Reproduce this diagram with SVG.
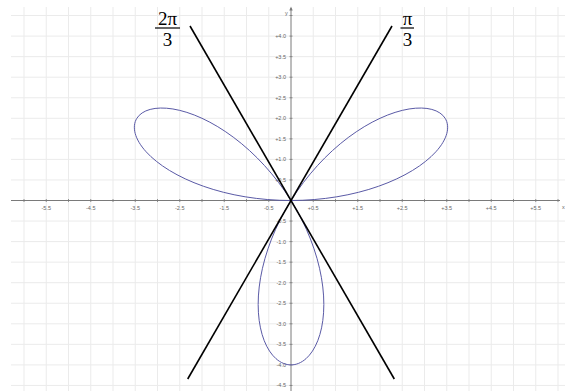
<svg xmlns="http://www.w3.org/2000/svg" xmlns:xlink="http://www.w3.org/1999/xlink" width="565" height="391" viewBox="0 0 565 391">
<style>
.grid{stroke:#ebebeb;stroke-width:1;fill:none}
.axis{stroke:#7a7a7a;stroke-width:1;fill:none}
.tick{stroke:#7a7a7a;stroke-width:0.8}
.tl{font-family:"Liberation Sans",Arial,sans-serif;font-size:5.5px;fill:#666}
.xl{text-anchor:middle}
.yl{text-anchor:end;dominant-baseline:central}
.curve{fill:none;stroke:#5a5aa6;stroke-width:1;vector-effect:non-scaling-stroke}
.ray{stroke:#000;stroke-width:1.6;fill:none}
.frac{font-family:"Liberation Serif","Times New Roman",serif;font-size:19px;fill:#000;text-anchor:middle}
</style>
<defs>
<path id="lobe" class="curve" d="M0 0 C0.3491 0 0.6980 0.0308 1.0313 0.0902 C1.3646 0.1496 1.6820 0.2375 1.9696 0.3473 C2.2572 0.4571 2.5150 0.5887 2.7321 0.7321 C2.9492 0.8755 3.1257 1.0304 3.2552 1.1848 C3.3847 1.3392 3.4673 1.4929 3.5017 1.6329 C3.5361 1.7729 3.5223 1.8992 3.4641 2 C3.4059 2.1008 3.3034 2.1759 3.1649 2.2161 C3.0264 2.2563 2.8521 2.2617 2.6536 2.2267 C2.4551 2.1917 2.2327 2.1164 2 2 C1.7673 1.8836 1.5245 1.7263 1.2856 1.5321 C1.0467 1.3379 0.8119 1.1070 0.5938 0.8481 C0.3757 0.5892 0.1745 0.3023 0 0"/>
</defs>
<rect width="565" height="391" fill="#fff"/>
<g id="grid">
<path class="grid" d="M24 7V391M46.25 7V391M68.5 7V391M90.75 7V391M113 7V391M135.25 7V391M157.5 7V391M179.75 7V391M202 7V391M224.25 7V391M246.5 7V391M268.75 7V391M313.25 7V391M335.5 7V391M357.75 7V391M380 7V391M402.25 7V391M424.5 7V391M446.75 7V391M469 7V391M491.25 7V391M513.5 7V391M535.75 7V391M558 7V391"/>
<path class="grid" d="M11 15.5H565M11 36.1H565M11 56.65H565M11 77.2H565M11 97.75H565M11 118.3H565M11 138.85H565M11 159.4H565M11 179.95H565M11 221.05H565M11 241.6H565M11 262.15H565M11 282.7H565M11 303.25H565M11 323.8H565M11 344.35H565M11 364.9H565M11 385.45H565"/>
</g>
<g id="axes">
<path class="axis" d="M11 200.5H560M291 391V8"/>
<path d="M291 6.5L289.3 10.5H292.7Z" fill="#7a7a7a"/>
<path class="tick" d="M24 199V202M46.25 199V202M68.5 199V202M90.75 199V202M113 199V202M135.25 199V202M157.5 199V202M179.75 199V202M202 199V202M224.25 199V202M246.5 199V202M268.75 199V202M313.25 199V202M335.5 199V202M357.75 199V202M380 199V202M402.25 199V202M424.5 199V202M446.75 199V202M469 199V202M491.25 199V202M513.5 199V202M535.75 199V202M558 199V202"/>
<path class="tick" d="M289.5 15.5H292.5M289.5 36.1H292.5M289.5 56.65H292.5M289.5 77.2H292.5M289.5 97.75H292.5M289.5 118.3H292.5M289.5 138.85H292.5M289.5 159.4H292.5M289.5 179.95H292.5M289.5 221.05H292.5M289.5 241.6H292.5M289.5 262.15H292.5M289.5 282.7H292.5M289.5 303.25H292.5M289.5 323.8H292.5M289.5 344.35H292.5M289.5 364.9H292.5M289.5 385.45H292.5"/>
<text class="tl" x="285" y="15">y</text>
<text class="tl" x="562" y="209">x</text>
</g>
<g id="xlabels" class="tl xl">
<text x="46.25" y="210">-5.5</text>
<text x="90.75" y="210">-4.5</text>
<text x="135.25" y="210">-3.5</text>
<text x="179.75" y="210">-2.5</text>
<text x="224.25" y="210">-1.5</text>
<text x="268.75" y="210">-0.5</text>
<text x="313.25" y="210">+0.5</text>
<text x="357.75" y="210">+1.5</text>
<text x="402.25" y="210">+2.5</text>
<text x="446.75" y="210">+3.5</text>
<text x="491.25" y="210">+4.5</text>
<text x="535.75" y="210">+5.5</text>
</g>
<g id="ylabels" class="tl yl">
<text x="286" y="36.1">+4.0</text>
<text x="286" y="56.65">+3.5</text>
<text x="286" y="77.2">+3.0</text>
<text x="286" y="97.75">+2.5</text>
<text x="286" y="118.3">+2.0</text>
<text x="286" y="138.85">+1.5</text>
<text x="286" y="159.4">+1.0</text>
<text x="286" y="179.95">+0.5</text>
<text x="286" y="221.05">-0.5</text>
<text x="286" y="241.6">-1.0</text>
<text x="286" y="262.15">-1.5</text>
<text x="286" y="282.7">-2.0</text>
<text x="286" y="303.25">-2.5</text>
<text x="286" y="323.8">-3.0</text>
<text x="286" y="344.35">-3.5</text>
<text x="286" y="364.9">-4.0</text>
<text x="286" y="385.45">-4.5</text>
</g>
<g id="rose" transform="translate(291 200.5) scale(44.5 -41.1)">
<use xlink:href="#lobe" href="#lobe"/>
<use xlink:href="#lobe" href="#lobe" transform="rotate(120)"/>
<use xlink:href="#lobe" href="#lobe" transform="rotate(240)"/>
</g>
<g id="connectors">
<line class="ray" x1="392" y1="26" x2="187.7" y2="379"/>
<line class="ray" x1="190" y1="26" x2="394.3" y2="379"/>
</g>
<g id="label-2pi3">
<text class="frac" x="167.5" y="24.5">2π</text>
<line x1="155" y1="28" x2="180" y2="28" stroke="#000" stroke-width="1.2"/>
<text class="frac" x="167.5" y="45.5">3</text>
</g>
<g id="label-pi3">
<text class="frac" x="407.5" y="24.5">π</text>
<line x1="400.5" y1="28" x2="414" y2="28" stroke="#000" stroke-width="1.2"/>
<text class="frac" x="407.5" y="45.5">3</text>
</g>
</svg>
